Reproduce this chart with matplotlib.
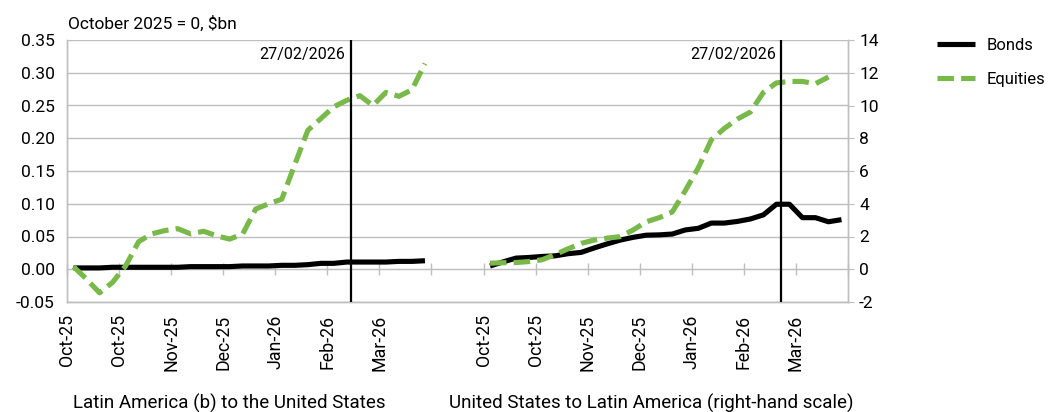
import matplotlib
matplotlib.use('Agg')
import matplotlib.pyplot as plt
import numpy as np

plt.rcParams['font.family'] = ['Roboto', 'DejaVu Sans']
plt.rcParams['axes.unicode_minus'] = False

# Weekly flows, October 2025 = 0, $bn
left_bonds = [0.002, 0.002, 0.002, 0.003, 0.003, 0.003, 0.003, 0.003, 0.003, 0.004,
              0.004, 0.004, 0.004, 0.005, 0.005, 0.005, 0.006, 0.006, 0.007, 0.009,
              0.009, 0.011, 0.011, 0.011, 0.011, 0.012, 0.012, 0.013]
left_equities = [0.004, -0.015, -0.036, -0.020, 0.005, 0.042, 0.054, 0.059, 0.062, 0.054,
                 0.058, 0.051, 0.046, 0.054, 0.092, 0.100, 0.107, 0.160, 0.212, 0.230,
                 0.248, 0.258, 0.265, 0.250, 0.270, 0.264, 0.274, 0.314]
right_bonds = [0.20, 0.45, 0.68, 0.72, 0.78, 0.82, 0.95, 1.03, 1.30, 1.55,
               1.78, 1.95, 2.08, 2.10, 2.15, 2.40, 2.50, 2.82, 2.82, 2.92,
               3.07, 3.32, 3.97, 3.97, 3.15, 3.15, 2.90, 3.03]
right_equities = [0.37, 0.40, 0.41, 0.47, 0.58, 0.90, 1.25, 1.58, 1.78, 1.90,
                  1.99, 2.40, 2.90, 3.15, 3.50, 4.80, 6.20, 7.90, 8.60, 9.17,
                  9.60, 10.80, 11.38, 11.47, 11.47, 11.33, 11.74]

month_labels = ['Oct-25', 'Oct-25', 'Nov-25', 'Dec-25', 'Jan-26', 'Feb-26', 'Mar-26']
event_label = '27/02/2026'
event_x = [21.3, 54.35]          # category position of the event in each panel
right_start = 32                 # first category of the second panel
n_categories = 60
tick_every = 4

green = '#78b94a'
grid_grey = '#bfbfbf'

fig = plt.figure(figsize=(10.56, 4.12), dpi=100)
ax = fig.add_axes([67 / 1056, 110 / 412, 781 / 1056, 262 / 412])
ax2 = ax.twinx()

x_left = np.arange(len(left_bonds))
x_right_b = right_start + np.arange(len(right_bonds))
x_right_e = right_start + np.arange(len(right_equities))

lw = 3.7
ax.plot(x_left, left_bonds, color='black', lw=lw, solid_capstyle='butt', zorder=3)
ax.plot(x_left, left_equities, color=green, lw=lw, dashes=(3.2, 1.4),
        dash_capstyle='butt', zorder=4)
hb, = ax2.plot(x_right_b, right_bonds, color='black', lw=lw, solid_capstyle='butt',
               zorder=3, label='Bonds')
he, = ax2.plot(x_right_e, right_equities, color=green, lw=lw, dashes=(3.2, 1.4),
               dash_capstyle='butt', zorder=4, label='Equities')

for xe in event_x:
    ax2.axvline(xe, color='black', lw=1.6, zorder=5)
    ax2.text(xe - 0.4, 13.1, event_label, ha='right', va='center', fontsize=11.5)

# axes ranges and grid
ax.set_xlim(-0.5, n_categories - 0.5)
ax.set_ylim(-0.05, 0.35)
ax2.set_ylim(-2, 14)
ax.set_yticks(np.arange(-0.05, 0.351, 0.05))
ax.yaxis.set_major_formatter(matplotlib.ticker.FormatStrFormatter('%.2f'))
ax2.set_yticks(np.arange(-2, 15, 2))
ax.grid(axis='y', color=grid_grey, lw=1.0)
ax.set_axisbelow(True)

for a in (ax, ax2):
    for s in a.spines.values():
        s.set_color(grid_grey)
        s.set_linewidth(1.0)
    a.spines['top'].set_visible(False)

ax.tick_params(axis='y', length=0, pad=9, labelsize=12.5)
ax2.tick_params(axis='y', length=4, color=grid_grey, pad=4, labelsize=12.5)

# month labels along the bottom, tick marks along the zero line
boundaries = np.arange(-0.5, n_categories, tick_every)
label_pos = list(boundaries[:len(month_labels)]) + \
    list(boundaries[right_start // tick_every:right_start // tick_every + len(month_labels)])
ax.set_xticks(label_pos)
ax.set_xticklabels(month_labels * 2, rotation=90, fontsize=12.8)
ax.tick_params(axis='x', length=0, pad=9)

zero_axis = ax.secondary_xaxis(0.05 / 0.40)
zero_axis.set_xticks(boundaries)
zero_axis.set_xticklabels([])
zero_axis.tick_params(axis='x', direction='inout', length=9, color=grid_grey, width=1.0)
zero_axis.spines['bottom'].set_color(grid_grey)

fig.text(68 / 1056, 1 - 29 / 412, 'October 2025 = 0, $bn', fontsize=12.5, va='baseline')
fig.text(229 / 1056, 1 - 403 / 412, 'Latin America (b) to the United States',
         fontsize=13.5, ha='center', va='center')
fig.text(651 / 1056, 1 - 403 / 412, 'United States to Latin America (right-hand scale)',
         fontsize=13.5, ha='center', va='center')

fig.legend(handles=[hb, he], loc='upper left', bbox_to_anchor=(930 / 1056, 1 - 31 / 412),
           frameon=False, fontsize=12, handlelength=2.3, handletextpad=0.7,
           labelspacing=1.15, borderaxespad=0)

fig.savefig('out.png', dpi=100)
